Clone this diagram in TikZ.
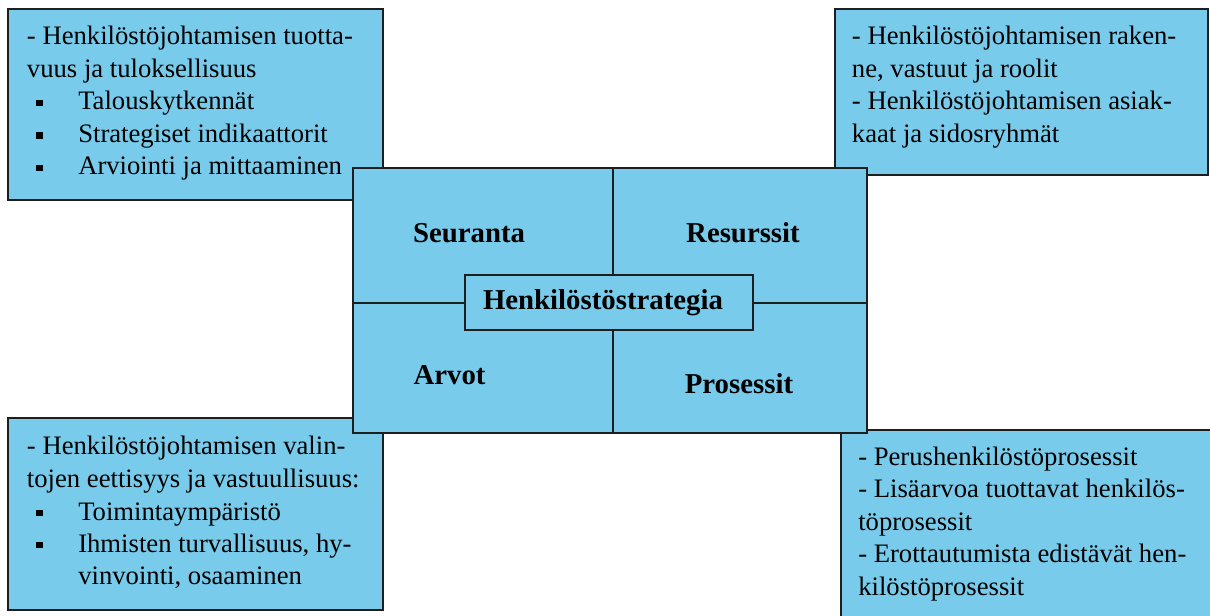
\documentclass[tikz,border=0pt]{standalone}
\usepackage{fontspec}
\setmainfont{Liberation Serif}
\definecolor{panelblue}{RGB}{120,203,234}
\definecolor{edge}{RGB}{30,30,30}
\begin{document}
\begin{tikzpicture}[x=0.75pt,y=-0.75pt,
  panel/.style={draw=edge, fill=panelblue, line width=1.5pt},
  divider/.style={draw=edge, line width=1.5pt},
  body/.style={anchor=base west, inner sep=0pt, font=\fontsize{20pt}{24pt}\selectfont},
  field/.style={anchor=base, inner sep=0pt, font=\fontsize{21.6pt}{26pt}\selectfont\bfseries},
  sq/.style={fill=black, draw=none, inner sep=0pt, minimum size=5pt}]
\useasboundingbox (0,0) rectangle (1210,616);
\clip (0,0) rectangle (1210,616);

% corner panels
\draw[panel] (8,9.5) rectangle (383,200);
\draw[panel] (835,9.5) rectangle (1208,175);
\draw[panel] (8,418) rectangle (383,610);
\draw[panel] (841,430) rectangle (1220,630);

% central square with its four fields
\draw[panel] (353,168) rectangle (867,433);
\draw[divider] (613,168) -- (613,433);
\draw[divider] (353,303) -- (867,303);
\node[panel, inner sep=0pt, outer sep=0pt, minimum width=216pt, minimum height=41.25pt]
  (core) at (609,302.5) {};
\node[field] (core-label) at (603,310) {Henkilöstöstrategia};
\node[field] (f-seuranta) at (469,243) {Seuranta};
\node[field] (f-resurssit) at (743,243) {Resurssit};
\node[field] (f-arvot) at (449.5,385) {Arvot};
\node[field] (f-prosessit) at (739,393) {Prosessit};

% top left panel
\node[body] (tl1) at (26.7,45) {- Henkilöstöjohtamisen tuotta-};
\node[body] (tl2) at (26.7,77.5) {vuus ja tuloksellisuus};
\node[sq] (tlb1) at (39.5,103) {};
\node[body] (tl3) at (78,110) {Talouskytkennät};
\node[sq] (tlb2) at (39.5,135.5) {};
\node[body] (tl4) at (78,142.5) {Strategiset indikaattorit};
\node[sq] (tlb3) at (39.5,168) {};
\node[body] (tl5) at (78,175) {Arviointi ja mittaaminen};

% top right panel
\node[body] (tr1) at (851.7,45) {- Henkilöstöjohtamisen raken-};
\node[body] (tr2) at (851.7,77.5) {ne, vastuut ja roolit};
\node[body] (tr3) at (851.7,110) {- Henkilöstöjohtamisen asiak-};
\node[body] (tr4) at (851.7,142.5) {kaat ja sidosryhmät};

% bottom left panel
\node[body] (bl1) at (26.7,455) {- Henkilöstöjohtamisen valin-};
\node[body] (bl2) at (26.7,487) {tojen eettisyys ja vastuullisuus:};
\node[sq] (blb1) at (39.5,513) {};
\node[body] (bl3) at (78,520) {Toimintaympäristö};
\node[sq] (blb2) at (39.5,545) {};
\node[body] (bl4) at (78,552) {Ihmisten turvallisuus, hy-};
\node[body] (bl5) at (78,584.5) {vinvointi, osaaminen};

% bottom right panel
\node[body] (br1) at (858,465) {- Perushenkilöstöprosessit};
\node[body] (br2) at (858,497.5) {- Lisäarvoa tuottavat henkilös-};
\node[body] (br3) at (858,530) {töprosessit};
\node[body] (br4) at (858,562.5) {- Erottautumista edistävät hen-};
\node[body] (br5) at (858,595) {kilöstöprosessit};
\end{tikzpicture}
\end{document}
